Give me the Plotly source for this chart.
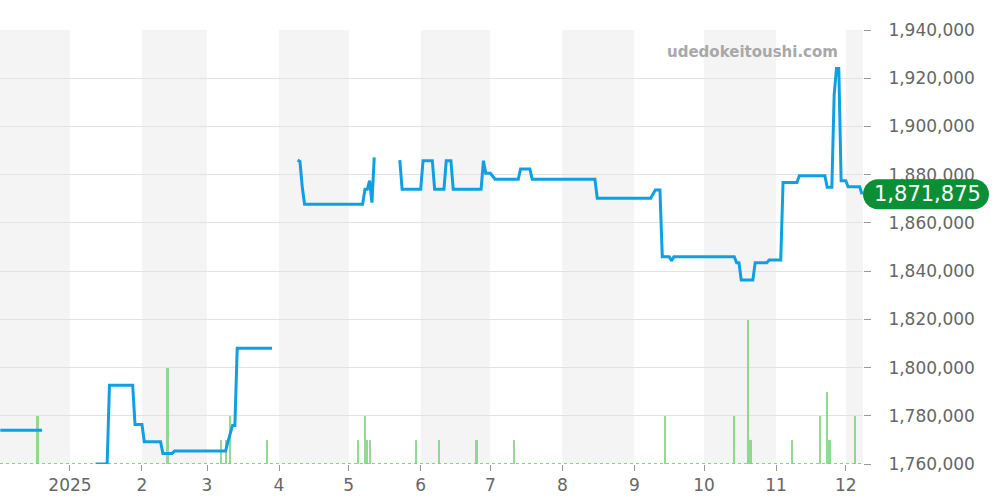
import plotly.graph_objects as go

# ---------------- data ----------------
price_dates = [
    "2024-12-02", "2024-12-20", None,
    "2025-01-12", "2025-01-17", "2025-01-18", "2025-01-28", "2025-01-29", "2025-02-01",
    "2025-02-02", "2025-02-09", "2025-02-10", "2025-02-14", "2025-02-15", "2025-03-09",
    "2025-03-10", "2025-03-11", "2025-03-12", "2025-03-13", "2025-03-14", "2025-03-29", None,
    "2025-04-09", "2025-04-10", "2025-04-11", "2025-04-12", "2025-05-07", "2025-05-08",
    "2025-05-09", "2025-05-10", "2025-05-11", "2025-05-12", None,
    "2025-05-23", "2025-05-24", "2025-06-01", "2025-06-02", "2025-06-06", "2025-06-07",
    "2025-06-11", "2025-06-12", "2025-06-14", "2025-06-15", "2025-06-27", "2025-06-28",
    "2025-06-29", "2025-07-01", "2025-07-03", "2025-07-13", "2025-07-14", "2025-07-18",
    "2025-07-19", "2025-08-15", "2025-08-16", "2025-09-08", "2025-09-10", "2025-09-12",
    "2025-09-13", "2025-09-16", "2025-09-17", "2025-09-18", "2025-10-14", "2025-10-15",
    "2025-10-16", "2025-10-17", "2025-10-22", "2025-10-23", "2025-10-28", "2025-10-29",
    "2025-11-03", "2025-11-04", "2025-11-10", "2025-11-11", "2025-11-22", "2025-11-23",
    "2025-11-25", "2025-11-26", "2025-11-27", "2025-11-28", "2025-11-29", "2025-12-01",
    "2025-12-02", "2025-12-07", "2025-12-08",
]
price_values = [
    1774000, 1774000, None,
    1760000, 1760000, 1792700, 1792700, 1776400, 1776400,
    1769200, 1769200, 1764400, 1764400, 1765400, 1765400,
    1769200, 1772500, 1776000, 1776000, 1808000, 1808000, None,
    1886000, 1885500, 1875000, 1867700, 1867700, 1873900,
    1873900, 1877500, 1868400, 1887200, None,
    1886000, 1873900, 1873900, 1885800, 1885800, 1873900,
    1873900, 1885800, 1885800, 1873900, 1873900, 1885800,
    1880600, 1880600, 1878100, 1878100, 1882400, 1882400,
    1878100, 1878100, 1870200, 1870200, 1873600, 1873600,
    1846000, 1846000, 1844300, 1846000, 1846000, 1843500,
    1843500, 1836300, 1836300, 1843500, 1843500, 1844600,
    1844600, 1876800, 1876800, 1879600, 1879600, 1874800,
    1874800, 1913000, 1924000, 1924000, 1877500, 1877500,
    1875000, 1875000, 1871875,
]

volume_dates = [
    "2024-12-18", "2025-02-12", "2025-03-07", "2025-03-09", "2025-03-11", "2025-03-27",
    "2025-05-05", "2025-05-08", "2025-05-09", "2025-05-10", "2025-05-30", "2025-06-09",
    "2025-06-25", "2025-07-11", "2025-09-14", "2025-10-14", "2025-10-20", "2025-10-21",
    "2025-11-08", "2025-11-20", "2025-11-23", "2025-11-24", "2025-12-05",
]
volume_values = [2, 4, 1, 1, 2, 1, 1, 2, 1, 1, 1, 1, 1, 1, 2, 2, 6, 1, 1, 2, 3, 1, 2]

tick_dates = ["2025-01-01", "2025-02-01", "2025-03-01", "2025-04-01", "2025-05-01",
              "2025-06-01", "2025-07-01", "2025-08-01", "2025-09-01", "2025-10-01",
              "2025-11-01", "2025-12-01"]
tick_labels = ["2025", "2", "3", "4", "5", "6", "7", "8", "9", "10", "11", "12"]

shaded_months = [("2024-12-01", "2025-01-01"), ("2025-02-01", "2025-03-01"),
                 ("2025-04-01", "2025-05-01"), ("2025-06-01", "2025-07-01"),
                 ("2025-08-01", "2025-09-01"), ("2025-10-01", "2025-11-01"),
                 ("2025-12-01", "2026-01-01")]

y_min, y_max = 1760000, 1940000
last_value = 1871875
last_label = "1,871,875"
watermark = "udedokeitoushi.com"

FONT = "DejaVu Sans"

# ---------------- figure ----------------
fig = go.Figure()

# volume bars on the base (hidden) axis so the price line sits above them
fig.add_trace(go.Bar(
    x=volume_dates, y=volume_values, yaxis="y",
    marker=dict(color="rgba(120,208,120,0.8)", line=dict(width=0)),
    width=0.9 * 86400000, hoverinfo="skip", showlegend=False,
))

fig.add_trace(go.Scatter(
    x=price_dates, y=price_values, mode="lines", yaxis="y2",
    line=dict(color="#0ea0e2", width=3), connectgaps=False,
    showlegend=False,
))

shapes = []
for s, e in shaded_months:
    shapes.append(dict(type="rect", xref="x", yref="paper", x0=s, x1=e, y0=0, y1=1,
                       fillcolor="#f4f4f4", line=dict(width=0), layer="below"))
# dotted volume baseline
shapes.append(dict(type="line", xref="paper", yref="y", x0=0, x1=1, y0=0, y1=0,
                   line=dict(color="rgba(120,208,120,0.9)", width=2, dash="dot"),
                   layer="below"))

# rounded pill label for the last value
ypos = (last_value - y_min) / (y_max - y_min)
w, h, r = 126, 30, 15
k = 0.5523 * r
hh = h / 2
path = (f"M {r},{-hh} L {w - r},{-hh} "
        f"C {w - r + k},{-hh} {w},{-k} {w},0 "
        f"C {w},{k} {w - r + k},{hh} {w - r},{hh} "
        f"L {r},{hh} "
        f"C {r - k},{hh} 0,{k} 0,0 "
        f"C 0,{-k} {r - k},{-hh} {r},{-hh} Z")
shapes.append(dict(type="path", xref="paper", yref="paper", xsizemode="pixel",
                   ysizemode="pixel", xanchor=1, yanchor=ypos, path=path,
                   fillcolor="#0b8e36", line=dict(width=0), layer="above"))

fig.update_layout(
    width=1000, height=500,
    margin=dict(l=0, r=137, t=30, b=36, autoexpand=False),
    paper_bgcolor="white", plot_bgcolor="white",
    font=dict(family=FONT, color="#666666", size=17),
    shapes=shapes,
    bargap=0,
    xaxis=dict(
        type="date", automargin=False,
        range=["2024-12-01 21:00", "2025-12-08 10:00"],
        tickvals=tick_dates, ticktext=tick_labels,
        ticks="outside", ticklen=6, tickcolor="#999999",
        showgrid=False, showline=False, zeroline=False,
        tickfont=dict(size=17, color="#666666"),
    ),
    yaxis=dict(range=[0, 18.08], visible=False, fixedrange=True, automargin=False,
               showgrid=False, zeroline=False),
    yaxis2=dict(
        overlaying="y", side="right", range=[y_min, y_max], dtick=20000,
        tickformat=",d", ticks="outside", ticklen=7, tickcolor="#999999",
        showgrid=True, gridcolor="#e2e2e2", gridwidth=1,
        zeroline=False, showline=False, automargin=False,
        tickfont=dict(size=17, color="#666666"),
        ticklabelstandoff=14,
    ),
    annotations=[
        dict(text=last_label, xref="paper", yref="paper", x=1, y=ypos,
             xanchor="center", yanchor="middle", xshift=w / 2 + 1, showarrow=False,
             font=dict(family=FONT, size=21, color="white")),
        dict(text=f"<b>{watermark}</b>", xref="paper", yref="paper",
             x=840 / 863, y=(464 - 52) / 434, xanchor="right", yanchor="middle",
             showarrow=False, font=dict(family=FONT, size=15, color="#a8a8a8")),
    ],
)

fig.write_html(
    "out.html",
    config={"displayModeBar": False},
    post_script="document.body.style.margin='0';document.body.style.overflow='hidden';",
)
